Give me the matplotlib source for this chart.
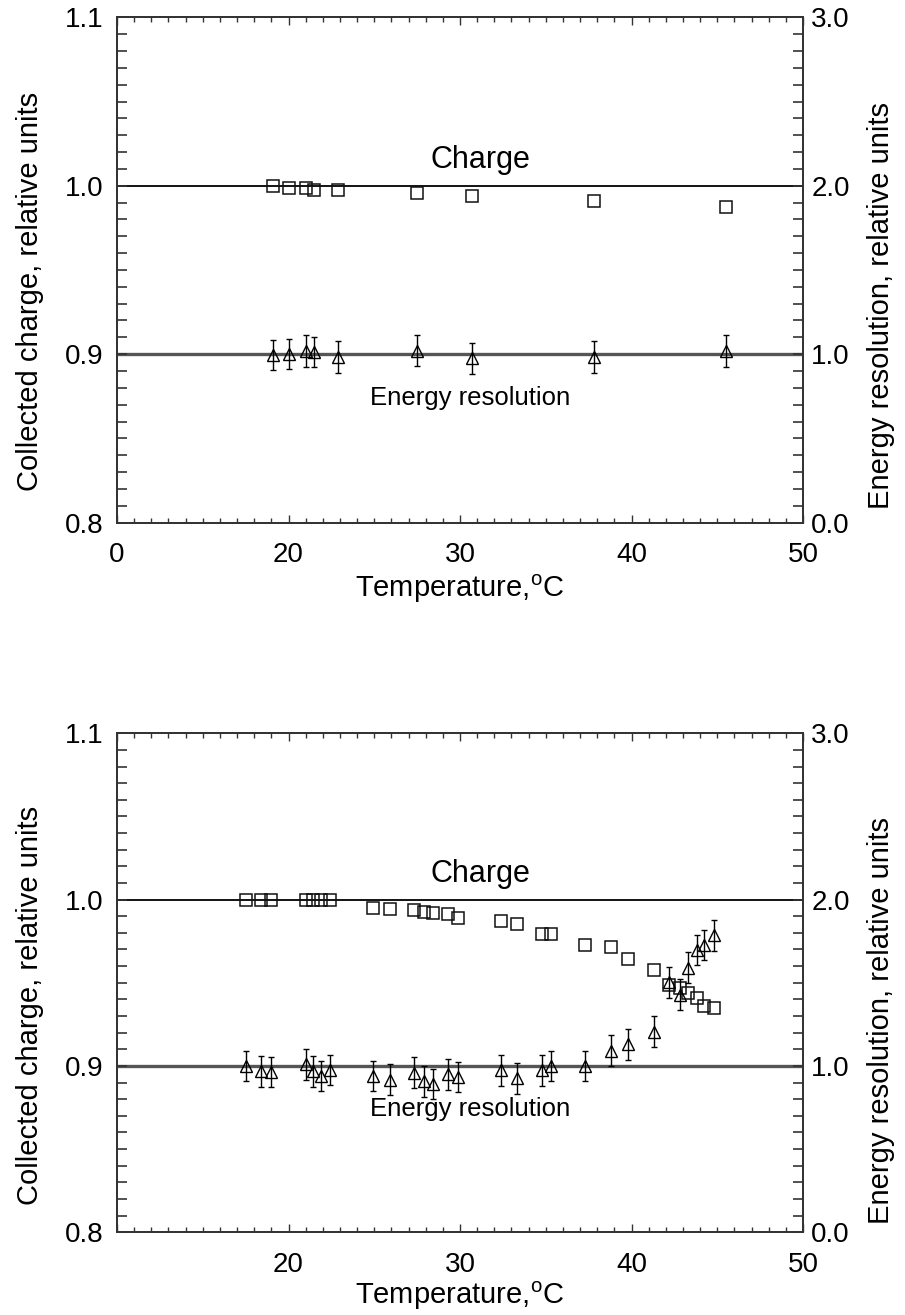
import numpy as np
import matplotlib
matplotlib.use('Agg')
import matplotlib.pyplot as plt
from matplotlib.ticker import MultipleLocator

plt.rcParams['font.family'] = ['Liberation Sans', 'DejaVu Sans']
plt.rcParams['mathtext.fontset'] = 'custom'
plt.rcParams['mathtext.rm'] = 'Liberation Sans'
plt.rcParams['font.size'] = 21

# top panel data
top_t = [19.1, 20.0, 21.0, 21.5, 22.9, 27.5, 30.7, 37.8, 45.5]
top_charge = [1.000, 0.9988, 0.9984, 0.9974, 0.9974, 0.9958, 0.9941, 0.9911, 0.9875]
top_res = [0.996, 1.002, 1.019, 1.012, 0.984, 1.021, 0.977, 0.984, 1.018]
top_err = [0.09, 0.09, 0.095, 0.09, 0.093, 0.092, 0.092, 0.093, 0.093]

# bottom panel data
bot_t = [17.5, 18.4, 19.0, 21.0, 21.4, 21.9, 22.4, 24.9, 25.9, 27.3, 27.9, 28.4, 29.3, 29.9,
         32.4, 33.3, 34.8, 35.3, 37.3, 38.8, 39.8, 41.3, 42.2, 42.8, 43.3, 43.8, 44.2, 44.8]
bot_charge = [1.000, 1.000, 1.000, 1.000, 0.9996, 0.9998, 0.9998, 0.995, 0.9944, 0.9936,
              0.9926, 0.992, 0.9913, 0.9887, 0.9870, 0.9855, 0.9795, 0.9795, 0.9728, 0.9718,
              0.9642, 0.9577, 0.9485, 0.9467, 0.9441, 0.9406, 0.9362, 0.9346]
bot_res = [0.999, 0.967, 0.964, 1.010, 0.967, 0.939, 0.975, 0.940, 0.918, 0.960, 0.907,
           0.892, 0.949, 0.934, 0.974, 0.926, 0.974, 1.000, 1.000, 1.092, 1.129, 1.207,
           1.503, 1.429, 1.590, 1.698, 1.728, 1.785]
bot_err = [0.092] * len(bot_t)

x_ticks = [10, 20, 30, 40, 50]
top_xlabels = ['0', '20', '30', '40', '50']
bot_xlabels = ['', '20', '30', '40', '50']
left_ticks = [0.8, 0.9, 1.0, 1.1]
right_ticks = [0.0, 1.0, 2.0, 3.0]

spine_col = '#333333'


def panel(ax, t, charge, res, err, xlabels, lab_y, xlabpad):
    ax.set_xlim(10, 50)
    ax.set_ylim(0.8, 1.1)
    ax.axhline(1.0, color='black', lw=1.3, zorder=1)
    ax.axhline(0.9, color='#555555', lw=2.4, zorder=1)
    ax.plot(t, charge, ls='none', marker='s', ms=8, mfc='none', mec='#111111', mew=1.1, zorder=3)

    ax.set_xticks(x_ticks)
    ax.set_xticklabels(xlabels)
    ax.xaxis.set_minor_locator(MultipleLocator(1))
    ax.set_yticks(left_ticks)
    ax.set_yticklabels(['%.1f' % v for v in left_ticks])
    ax.yaxis.set_minor_locator(MultipleLocator(0.01))
    ax.tick_params(axis='x', which='major', direction='in', length=6, width=1, top=True,
                   pad=14, color=spine_col, labelsize=20)
    ax.tick_params(axis='x', which='minor', direction='in', length=3.5, width=1, top=True,
                   color=spine_col)
    ax.tick_params(axis='y', which='both', direction='in', length=7, width=1.2, right=False,
                   pad=10, color=spine_col, labelsize=20)
    for s in ax.spines.values():
        s.set_color(spine_col)
        s.set_linewidth(1.3)
    ax.set_xlabel('Temperature,$^{\\rm o}$C', labelpad=xlabpad)
    ax.set_ylabel('Collected charge, relative units')
    ax.yaxis.set_label_coords(-0.106, lab_y[0])

    ax2 = ax.twinx()
    ax2.set_ylim(0.0, 3.0)
    ax2.errorbar(t, res, yerr=err, fmt='^', ms=8.5, mfc='none', mec='black', mew=1.0,
                 ecolor='black', elinewidth=1.0, capsize=2.5, capthick=1.0, zorder=3)
    ax2.set_yticks(right_ticks)
    ax2.set_yticklabels(['%.1f' % v for v in right_ticks])
    ax2.yaxis.set_minor_locator(MultipleLocator(0.1))
    ax2.tick_params(axis='y', which='both', direction='in', length=7, width=1.2, pad=6,
                    color=spine_col, labelsize=20)
    for s in ax2.spines.values():
        s.set_color(spine_col)
        s.set_linewidth(1.3)
    ax2.set_ylabel('Energy resolution, relative units')
    ax2.yaxis.set_label_coords(1.093, lab_y[1])

    ax.text(31.2, 1.0155, 'Charge', ha='center', va='center', fontsize=22)
    ax.text(30.6, 0.874, 'Energy resolution', ha='center', va='center', fontsize=18.5)


fig = plt.figure(figsize=(9.05, 13.15), dpi=100)
ax_top = fig.add_axes([0.1293, 0.6026, 0.758, 0.3842])
ax_bot = fig.add_axes([0.1293, 0.0629, 0.758, 0.3795])

panel(ax_top, top_t, top_charge, top_res, top_err, top_xlabels, (0.458, 0.43), 3)
panel(ax_bot, bot_t, bot_charge, bot_res, bot_err, bot_xlabels, (0.455, 0.425), 1)

fig.savefig('out.png', dpi=100)
